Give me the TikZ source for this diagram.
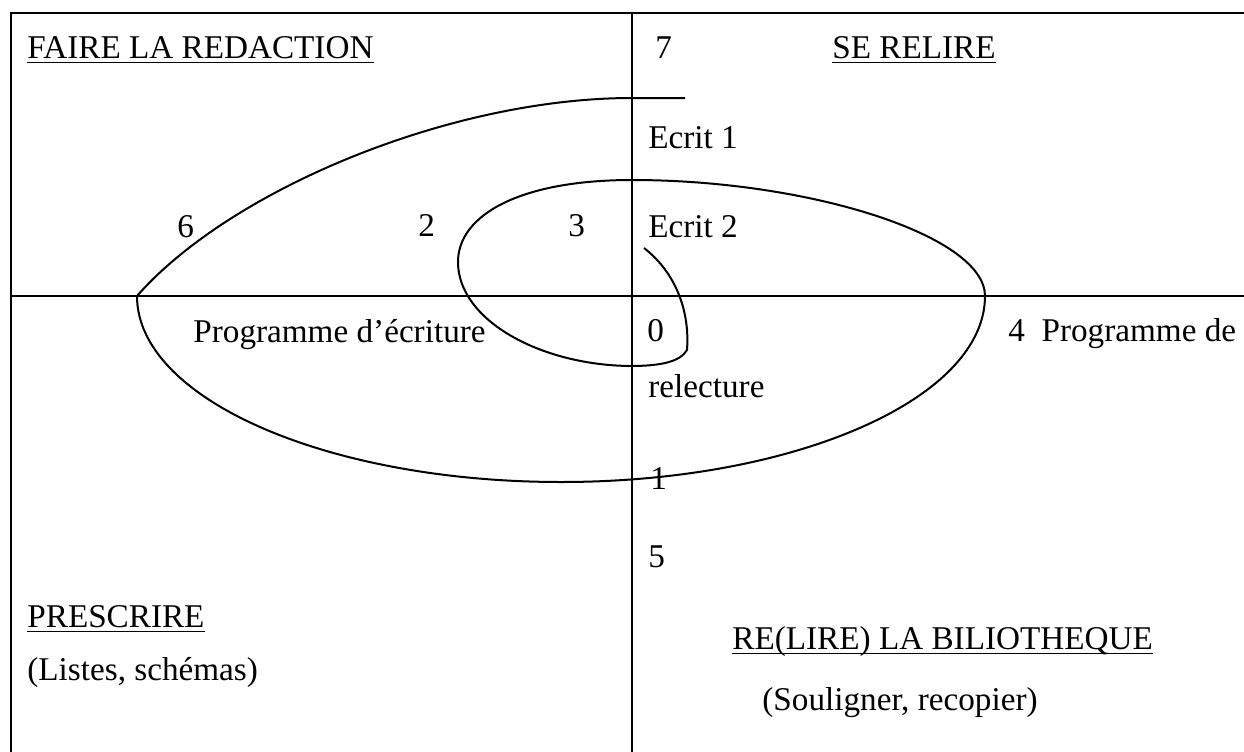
\documentclass[tikz,border=0pt]{standalone}
\usepackage{fontspec}
\setmainfont{Liberation Serif}
\begin{document}
\begin{tikzpicture}[x=0.5pt,y=-0.5pt,
  lbl/.style={anchor=base west, inner sep=0pt, font=\fontsize{16.6}{20}\selectfont},
  ulrule/.style={line width=0.85pt},
  framerule/.style={line width=1pt},
  axisrule/.style={line width=0.75pt},
  spiral/.style={line width=1pt, line join=round}]
\useasboundingbox (0,0) rectangle (1244,751);
\clip (0,0) rectangle (1244,751);
\fill[white] (0,0) rectangle (1244,751);

% outer frame (open towards the right and the bottom)
\draw[framerule] (11,770) -- (11,13) -- (1270,13);

% the two axes splitting the four quadrants
\draw[axisrule] (632,13) -- (632,770);
\draw[axisrule] (11,296) -- (1270,296);

% the spiral of the writing process
\draw[spiral] (685,98) -- (632,98)
  .. controls (450,98) and (230,190) .. (137,296)
  .. controls (137,398.7) and (326.8,482) .. (561,482)
  .. controls (795.2,482) and (985,398.7) .. (985,296)
  .. controls (985,236) and (810,180) .. (632,180)
  .. controls (520,180) and (458,215) .. (458,262)
  .. controls (458,320) and (540,365) .. (630,366)
  .. controls (660,366) and (680,362) .. (687,350)
  .. controls (690,310) and (675,272) .. (644,248);

% quadrant titles
\node[lbl] (redac) at (27,58) {FAIRE LA REDACTION};
\draw[ulrule] ([yshift=-2.3pt]redac.base west) -- ([yshift=-2.3pt]redac.base east);
\node[lbl] (relire) at (832,58) {SE RELIRE};
\draw[ulrule] ([yshift=-2.3pt]relire.base west) -- ([yshift=-2.3pt]relire.base east);
\node[lbl] (prescr) at (27,627) {PRESCRIRE};
\draw[ulrule] ([yshift=-2.3pt]prescr.base west) -- ([yshift=-2.3pt]prescr.base east);
\node[lbl] (biblio) at (732,649) {RE(LIRE) LA BILIOTHEQUE};
\draw[ulrule] ([yshift=-2.3pt]biblio.base west) -- ([yshift=-2.3pt]biblio.base east);

% comments under the titles
\node[lbl] (listes) at (27,680) {(Listes, schémas)};
\node[lbl] (soul) at (762,710) {(Souligner, recopier)};

% texts along the spiral
\node[lbl] (n7) at (655,58) {7};
\node[lbl] (ecrit1) at (648,148) {Ecrit 1};
\node[lbl] (n6) at (177,237) {6};
\node[lbl] (n2) at (418,236) {2};
\node[lbl] (n3) at (568,236) {3};
\node[lbl] (ecrit2) at (648,237) {Ecrit 2};
\node[lbl] (progecr) at (193,342) {Programme d’écriture};
\node[lbl] (n0) at (647,341) {0};
\node[lbl] (proglec) at (1008,341) {4\ \ Programme de};
\node[lbl] (relect) at (648,397) {relecture};
\node[lbl] (n1) at (650,489) {1};
\node[lbl] (n5) at (648,567) {5};
\end{tikzpicture}
\end{document}
